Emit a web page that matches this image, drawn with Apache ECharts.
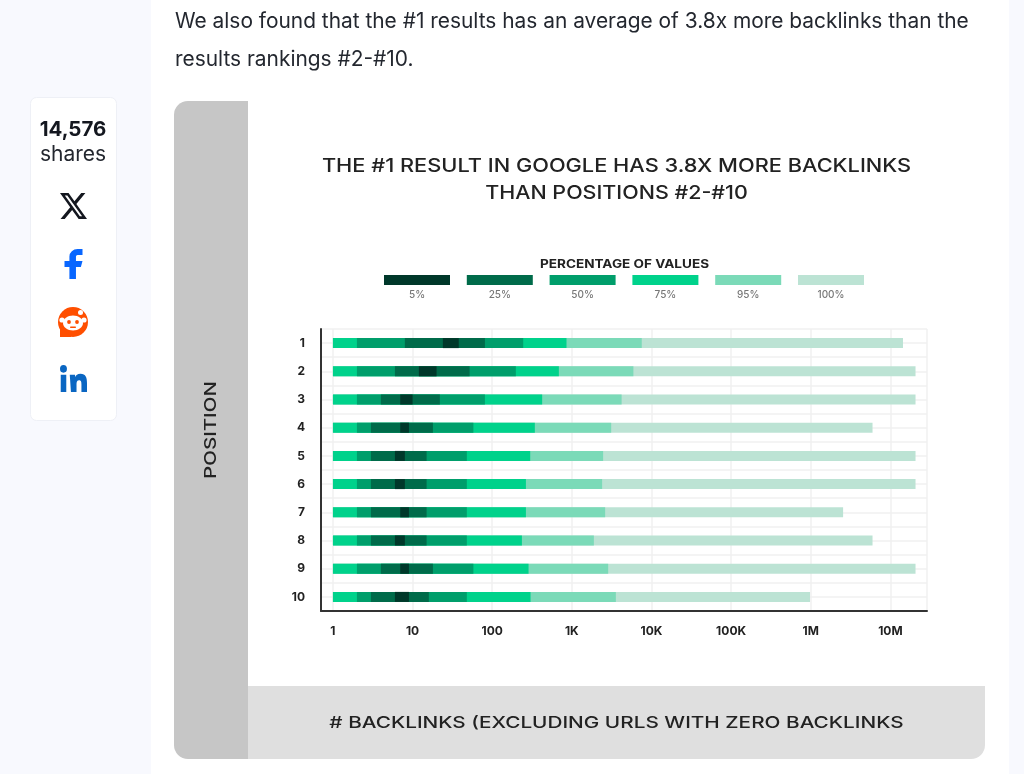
<!DOCTYPE html>
<html><head><meta charset="utf-8">
<style>html,body{margin:0;padding:0;background:#f8f9fe}#c{width:1024px;height:774px}</style>
<script src="https://cdn.jsdelivr.net/npm/echarts@6/dist/echarts.min.js"></script>
</head><body><div id="c"></div>
<script>
const positions = [1,2,3,4,5,6,7,8,9,10];
const xTickLabels = {1:'1',10:'10',100:'100',1000:'1K',10000:'10K',100000:'100K',1000000:'1M',10000000:'10M'};
const legendLabels = ['5%','25%','50%','75%','95%','100%'];
const legendColors = ['#00382a','#006b4a','#009e6b','#00d28b','#7bdab8','#bce3d4'];
// lower and upper bound of each nested band per position (backlinks)
const lo75 = [1,1,1,1,1,1,1,1,1,1];
const hi100 = [14400000,20700000,20700000,5970000,20700000,20700000,2550000,5970000,20700000,980000];
const hi95 = [7550,5930,4217,3120,2470,2400,2620,1890,2860,3570];
const hi75 = [857,687,424,343,300,265,265,236,286,303];
const lo50 = [2,2,2,2,2,2,2,2,2,2];
const hi50 = [245,198,81,58,48,48,48,48,58,48];
const lo25 = [8,6,4,3,3,3,3,3,4,3];
const hi25 = [81,52,22,18,15,15,15,15,18,16];
const lo5 = [24,12,7,7,6,6,7,6,7,6];
const hi5 = [38,20,10,9,8,8,9,8,9,9];

const chart = echarts.init(document.getElementById('c'), null, {renderer:'canvas'});
const FT = 'Inter', FC = 'Inter';

function band(name, color, los, his){
  return {
    type:'custom', name, coordinateSystem:'cartesian2d', clip:false, z:5,
    encode:{x:[1,2], y:0},
    data: positions.map((p,i)=>[p,los[i],his[i]]),
    renderItem(params, api){
      const a = api.coord([api.value(1), api.value(0)]);
      const b = api.coord([api.value(2), api.value(0)]);
      return {type:'rect', shape:{x:a[0], y:a[1]-5, width:b[0]-a[0], height:10},
              style:{fill:color}};
    }
  };
}

function wideText(text, x, y, font, scaleX, rotation){
  return {type:'text', z:1, x, y, scaleX, rotation:rotation||0,
    style:{x:0, y:0, text, fill:'#222', font, textAlign:'center', textVerticalAlign:'middle'}};
}

const swatches = legendLabels.flatMap((l,i)=>{
  const x = 384 + i*82.8;
  return [
    {type:'rect', z:1, shape:{x, y:275, width:66, height:10}, style:{fill:legendColors[i]}},
    {type:'text', z:1, style:{x:x+33, y:295, text:l, fill:'#777', font:'500 10px '+FC, textAlign:'center', textVerticalAlign:'middle'}}
  ];
});

const shareIcons = [
  ['M18.901 1.153h3.68l-8.04 9.19L24 22.846h-7.406l-5.8-7.584-6.638 7.584H.474l8.6-9.83L0 1.154h7.594l5.243 6.932ZM17.61 20.644h2.039L6.486 3.24H4.298Z',60,193,27,26,'#14171f'],
  ['M18 2h-3a5 5 0 0 0-5 5v3H7v4h3v8h4v-8h3l1-4h-4V7a1 1 0 0 1 1-1h3z',64.5,249,18,30,'#0866ff'],
  ['M4.98 3.5a2.5 2.5 0 1 1 0 5 2.5 2.5 0 0 1 0-5zM3 9.75h4V21H3zM9.5 9.75h3.8v1.54h.05c.53-1 1.83-2.05 3.77-2.05 4.03 0 4.78 2.65 4.78 6.1V21h-4v-4.93c0-1.18-.02-2.69-1.64-2.69-1.64 0-1.9 1.28-1.9 2.6V21h-4z',60,365,27,27,'#0a66c2']
];

const graphicEls = [
  {type:'rect', z:-10, shape:{x:151,y:0,width:858,height:774}, style:{fill:'#fff'}},
  {type:'rect', z:-9, shape:{x:174,y:101,width:74,height:658,r:[14,0,0,14]}, style:{fill:'#c6c6c6'}},
  {type:'rect', z:-9, shape:{x:248,y:686,width:737,height:73,r:[0,0,14,0]}, style:{fill:'#dfdfdf'}},
  {type:'text', z:1, style:{x:175, y:22, text:'We also found that the #1 results has an average of 3.8x more backlinks than the', fill:'#23272f', font:'400 20.9px '+FT, textVerticalAlign:'middle'}},
  {type:'text', z:1, style:{x:175, y:60, text:'results rankings #2-#10.', fill:'#23272f', font:'400 20.9px '+FT, textVerticalAlign:'middle'}},
  // share box
  {type:'rect', z:-9, shape:{x:30.5,y:97.5,width:86,height:323,r:6}, style:{fill:'#fff', stroke:'#eef0f6', lineWidth:1}},
  {type:'text', z:1, style:{x:73, y:130, text:'14,576', fill:'#14171f', font:'700 20.5px '+FT, textAlign:'center', textVerticalAlign:'middle'}},
  {type:'text', z:1, style:{x:73, y:155, text:'shares', fill:'#23272f', font:'400 21px '+FT, textAlign:'center', textVerticalAlign:'middle'}},
  {type:'circle', z:1, shape:{cx:73,cy:322,r:15}, style:{fill:'#ff4f00'}},
  {type:'polygon', z:1, shape:{points:[[60,328],[60,337],[72,337]]}, style:{fill:'#ff4f00'}},
  {type:'ellipse', z:2, shape:{cx:73,cy:323,rx:10,ry:7.5}, style:{fill:'#fff'}},
  {type:'circle', z:2, shape:{cx:80.5,cy:312.5,r:2.5}, style:{fill:'#fff'}},
  {type:'circle', z:2, shape:{cx:62,cy:320,r:2.6}, style:{fill:'#fff'}},
  {type:'circle', z:2, shape:{cx:84,cy:320,r:2.6}, style:{fill:'#fff'}},
  {type:'circle', z:3, shape:{cx:69,cy:322,r:1.9}, style:{fill:'#ff4f00'}},
  {type:'circle', z:3, shape:{cx:77,cy:322,r:1.9}, style:{fill:'#ff4f00'}},
  {type:'rect', z:3, shape:{x:70,y:326.5,width:6,height:1.5,r:0.7}, style:{fill:'#ff4f00'}},
  // chart title, legend, axis titles
  wideText('THE #1 RESULT IN GOOGLE HAS 3.8X MORE BACKLINKS', 616.5, 166, '500 19px '+FC, 1.146),
  wideText('THAN POSITIONS #2-#10', 616.5, 193, '500 19px '+FC, 1.13),
  wideText('PERCENTAGE OF VALUES', 624.5, 264.5, '700 12px '+FC, 1.13),
  wideText('POSITION', 211, 430, '500 16px '+FC, 1.28, Math.PI/2),
  wideText('# BACKLINKS (EXCLUDING URLS WITH ZERO BACKLINKS', 616.5, 723, '500 16px '+FC, 1.297),
  ...swatches
];

chart.setOption({
  animation:false,
  backgroundColor:'#f8f9fe',
  textStyle:{fontFamily:FC},
  grid:{left:321, top:329, width:606, height:282, containLabel:false},
  xAxis:{
    type:'log', logBase:10, min:Math.pow(10,-0.15), max:Math.pow(10,7.46), position:'bottom',
    axisLine:{show:true, onZero:false, lineStyle:{color:'#333', width:2}},
    axisTick:{show:false}, minorTick:{show:false},
    splitLine:{show:true, lineStyle:{color:'#f0f0f0', width:1.5}},
    axisLabel:{margin:14, color:'#222', fontSize:12, fontWeight:700, fontFamily:FC,
      showMinLabel:true, showMaxLabel:true, hideOverlap:false,
      formatter:v=>xTickLabels[Math.round(v)] && Math.abs(Math.round(v)-v)<1e-3*v ? xTickLabels[Math.round(v)] : ''}
  },
  yAxis:{
    type:'value', inverse:true, min:0.5, max:10.5, interval:0.5,
    axisLine:{show:true, onZero:false, lineStyle:{color:'#333', width:2}},
    axisTick:{show:false},
    splitLine:{show:true, lineStyle:{color:'#f0f0f0', width:1.5}},
    axisLabel:{margin:16, color:'#222', fontSize:12, fontWeight:700, fontFamily:FC,
      formatter:v=>positions.includes(v)?String(v):''}
  },
  graphic:{elements:graphicEls},
  series:[
    band('100%',legendColors[5],lo75,hi100),
    band('95%',legendColors[4],lo75,hi95),
    band('75%',legendColors[3],lo75,hi75),
    band('50%',legendColors[2],lo50,hi50),
    band('25%',legendColors[1],lo25,hi25),
    band('5%',legendColors[0],lo5,hi5),
    {type:'custom', name:'icons', coordinateSystem:'none', silent:true, z:6,
     data:shareIcons.map((d,i)=>[i]),
     renderItem(params){
       const [p,x,y,w,h,fill]=shareIcons[params.dataIndex];
       return {type:'path', shape:{pathData:p, layout:'cover', x,y,width:w,height:h}, style:{fill}};
     }}
  ]
});
</script></body></html>
